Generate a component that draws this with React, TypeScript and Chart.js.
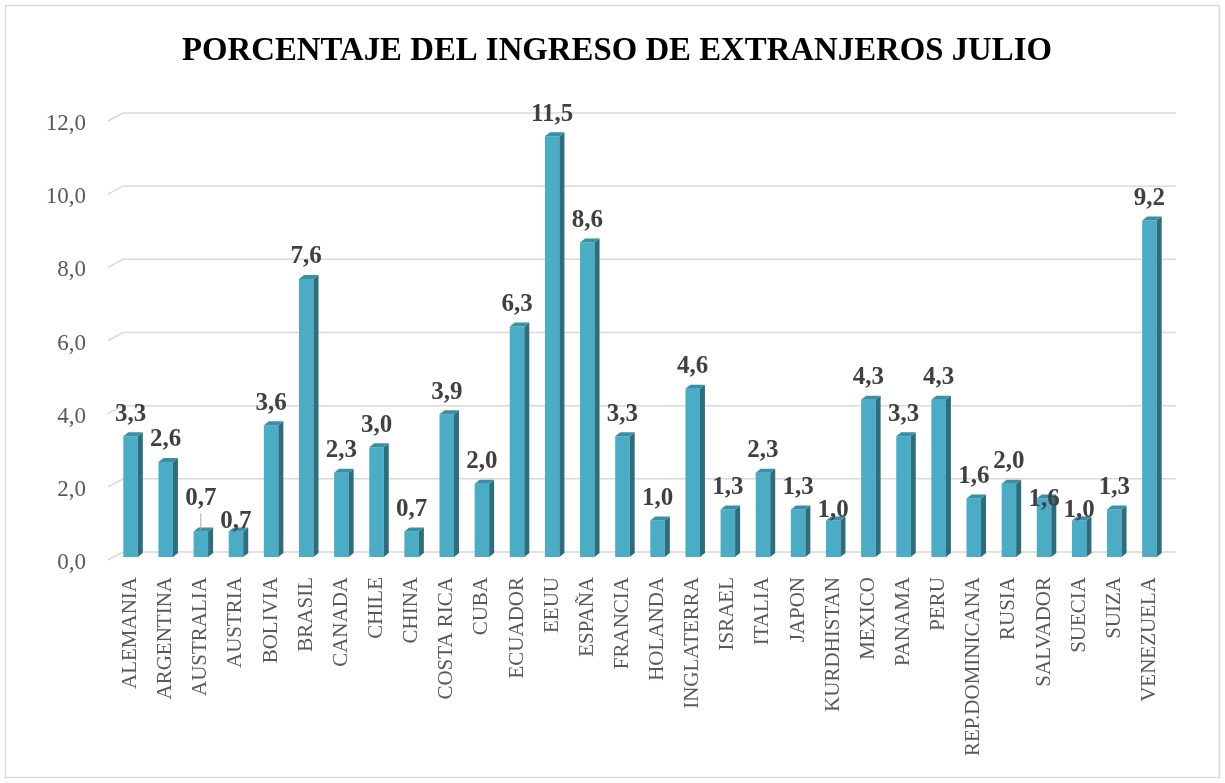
import React, { useEffect, useRef } from "react";
import { Chart, registerables } from "chart.js";

Chart.register(...registerables);

const title = "PORCENTAJE DEL INGRESO DE EXTRANJEROS JULIO";

const categories = [
  "ALEMANIA", "ARGENTINA", "AUSTRALIA", "AUSTRIA", "BOLIVIA", "BRASIL",
  "CANADA", "CHILE", "CHINA", "COSTA RICA", "CUBA", "ECUADOR", "EEUU",
  "ESPAÑA", "FRANCIA", "HOLANDA", "INGLATERRA", "ISRAEL", "ITALIA", "JAPON",
  "KURDHISTAN", "MEXICO", "PANAMA", "PERU", "REP.DOMINICANA", "RUSIA",
  "SALVADOR", "SUECIA", "SUIZA", "VENEZUELA",
];

const values = [
  3.3, 2.6, 0.7, 0.7, 3.6, 7.6,
  2.3, 3.0, 0.7, 3.9, 2.0, 6.3, 11.5,
  8.6, 3.3, 1.0, 4.6, 1.3, 2.3, 1.3,
  1.0, 4.3, 3.3, 4.3, 1.6, 2.0,
  1.6, 1.0, 1.3, 9.2,
];

const yTickValues = [0, 2, 4, 6, 8, 10, 12];

// styling
const FRONT = "#4BACC6";
const SIDE = "#2D6E7E";
const TOP = "#3A8FA5";
const GRID = "#d9d9d9";
const DX = 5;
const DY = 4;
const SERIF = "'Liberation Serif', 'Times New Roman', serif";
// label vertical offset overrides (by category index), default -24
const LABEL_NUDGE: Record<number, number> = { 2: -35, 3: -12, 20: -12, 26: -1, 27: -12 };
const LEADER = new Set([2]);

const fmt = (v: number) => v.toFixed(1).replace(".", ",");

const decoPlugin = {
  id: "deco",
  beforeDraw(chart: any) {
    const { ctx, width, height } = chart;
    ctx.save();
    ctx.fillStyle = "#ffffff";
    ctx.fillRect(0, 0, width, height);
    ctx.strokeStyle = "#d9d9d9";
    ctx.lineWidth = 1.5;
    ctx.strokeRect(5.5, 5.5, width - 11, height - 11);
    // title
    ctx.font = `bold 34px ${SERIF}`;
    const w = ctx.measureText(title).width;
    const target = 870;
    const sx = target / w;
    ctx.translate(617, 60);
    ctx.scale(sx, 1);
    ctx.fillStyle = "#000000";
    ctx.textAlign = "center";
    ctx.textBaseline = "alphabetic";
    ctx.fillText(title, 0, 0);
    ctx.restore();
  },
  beforeDatasetsDraw(chart: any) {
    const { ctx, chartArea } = chart;
    const yScale = chart.scales.y;
    ctx.save();
    ctx.strokeStyle = GRID;
    ctx.lineWidth = 1.5;
    ctx.font = `23px ${SERIF}`;
    ctx.fillStyle = "#595959";
    ctx.textAlign = "right";
    ctx.textBaseline = "alphabetic";
    yTickValues.forEach((v) => {
      const y = yScale.getPixelForValue(v);
      ctx.beginPath();
      ctx.moveTo(chartArea.left - 5, y + 3);
      ctx.lineTo(chartArea.left + 10, y - 5);
      ctx.lineTo(chartArea.right + 9, y - 5);
      ctx.stroke();
      ctx.fillText(fmt(v), 86, y + 12);
    });
    ctx.restore();
  },
  afterDatasetsDraw(chart: any) {
    const { ctx } = chart;
    const meta = chart.getDatasetMeta(0);
    ctx.save();
    meta.data.forEach((bar: any, i: number) => {
      const { x, y, base, width } = bar.getProps(["x", "y", "base", "width"], true);
      const x1 = x - width / 2;
      const x2 = x + width / 2;
      // side face
      ctx.fillStyle = SIDE;
      ctx.beginPath();
      ctx.moveTo(x2, y);
      ctx.lineTo(x2 + DX, y - DY);
      ctx.lineTo(x2 + DX, base - DY);
      ctx.lineTo(x2, base);
      ctx.closePath();
      ctx.fill();
      // top face
      ctx.fillStyle = TOP;
      ctx.beginPath();
      ctx.moveTo(x1, y);
      ctx.lineTo(x1 + DX, y - DY);
      ctx.lineTo(x2 + DX, y - DY);
      ctx.lineTo(x2, y);
      ctx.closePath();
      ctx.fill();
      // label
      const off = LABEL_NUDGE[i] ?? -24;
      const cy = y + off;
      ctx.fillStyle = "#404040";
      ctx.font = `bold 25px ${SERIF}`;
      ctx.textAlign = "center";
      ctx.textBaseline = "alphabetic";
      ctx.fillText(fmt(values[i]), x, cy + 8.5);
      if (LEADER.has(i)) {
        ctx.strokeStyle = "#a6a6a6";
        ctx.lineWidth = 1;
        ctx.beginPath();
        ctx.moveTo(x, cy + 17);
        ctx.lineTo(x, y - 1);
        ctx.stroke();
      }
    });
    ctx.restore();
  },
};

export default function App() {
  const ref = useRef<HTMLCanvasElement | null>(null);

  useEffect(() => {
    document.body.style.margin = "0";
    const canvas = ref.current;
    if (!canvas) return;
    const chart = new Chart(canvas, {
      type: "bar",
      data: {
        labels: categories,
        datasets: [
          {
            data: values,
            backgroundColor: FRONT,
            borderWidth: 0,
            barPercentage: 0.413,
            categoryPercentage: 1,
          },
        ],
      },
      options: {
        responsive: false,
        animation: false,
        layout: { padding: { top: 118, right: 58, left: 0, bottom: 0 } },
        plugins: {
          legend: { display: false },
          title: { display: false },
          tooltip: { enabled: false },
        },
        scales: {
          x: {
            grid: { display: false, drawTicks: false },
            border: { display: false },
            ticks: {
              autoSkip: false,
              minRotation: 90,
              maxRotation: 90,
              padding: 20,
              color: "#595959",
              font: { family: SERIF, size: 21 },
            },
            afterFit: (scale: any) => {
              scale.height = 226;
            },
          },
          y: {
            min: 0,
            max: 12,
            grid: { display: false, drawTicks: false },
            border: { display: false },
            ticks: { display: false, stepSize: 2 },
            afterFit: (scale: any) => {
              scale.width = 113;
            },
          },
        },
      },
      plugins: [decoPlugin],
    });
    return () => chart.destroy();
  }, []);

  return (
    <canvas
      ref={ref}
      width={1225}
      height={783}
      style={{ display: "block", width: 1225, height: 783 }}
    />
  );
}
